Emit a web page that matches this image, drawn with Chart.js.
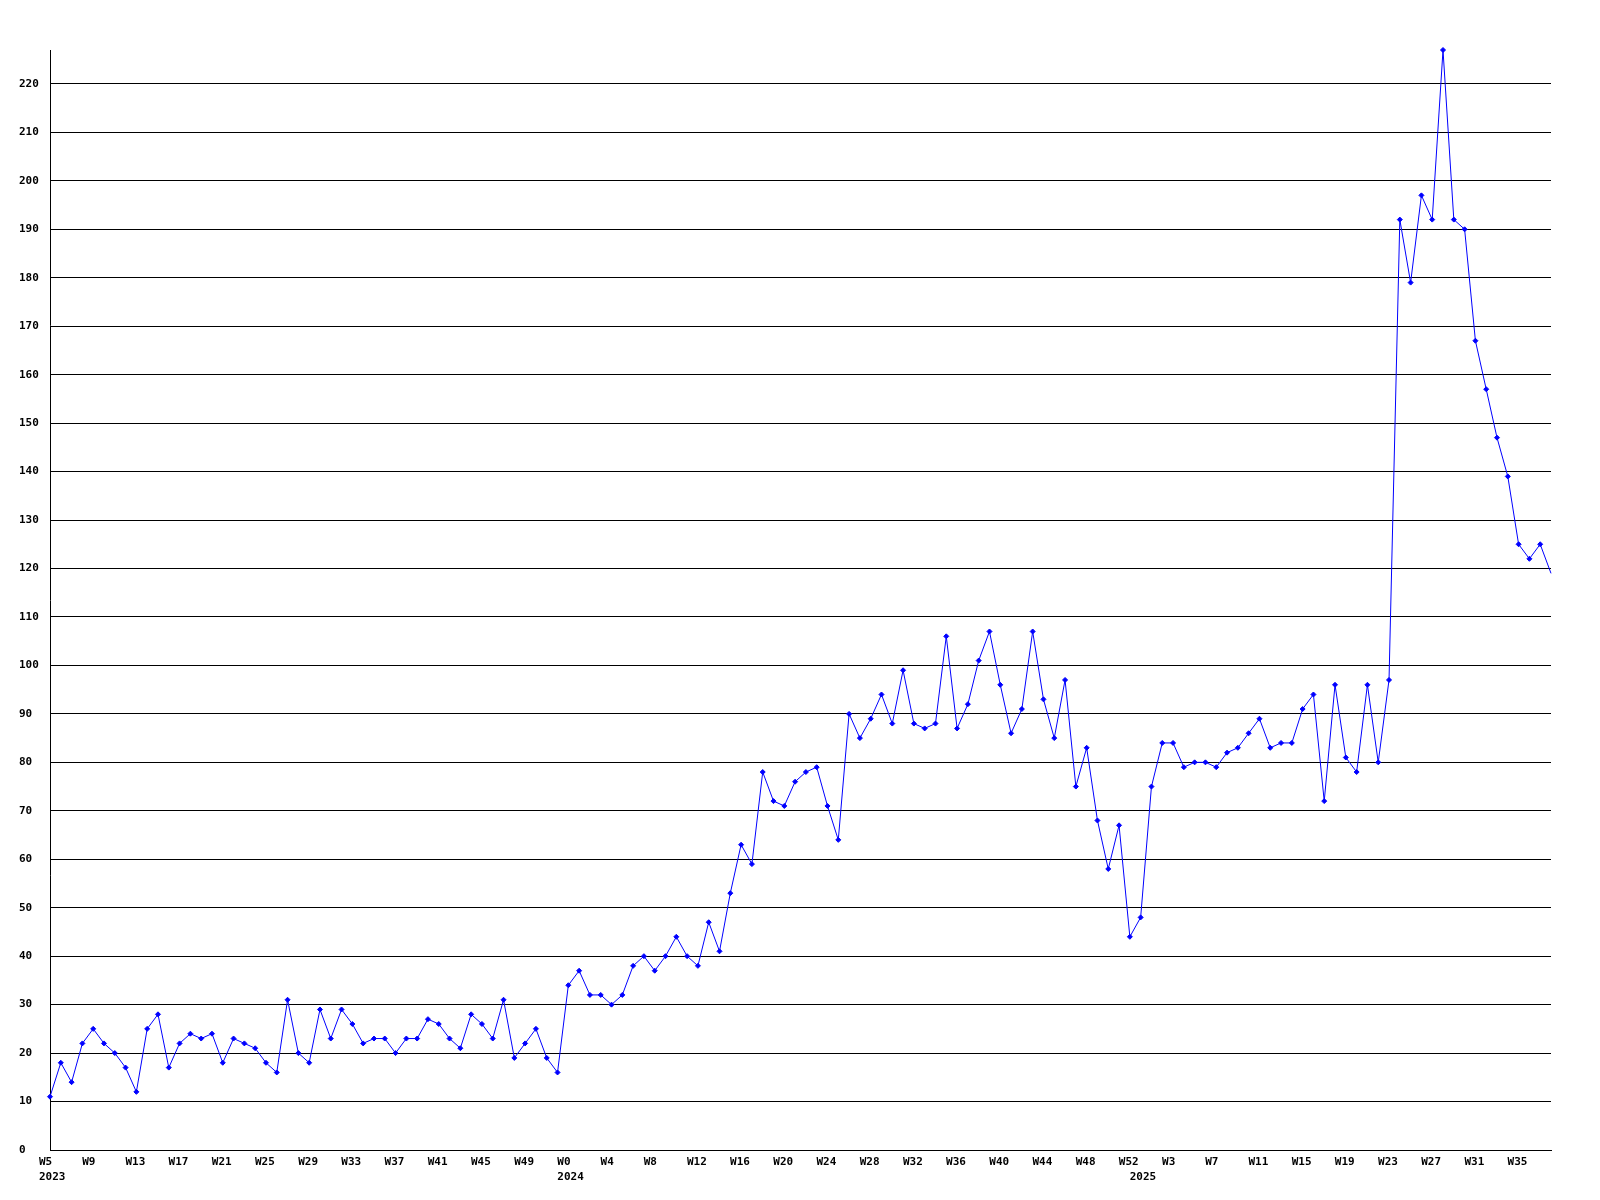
<!DOCTYPE html>
<html>
<head>
<meta charset="utf-8">
<script src="https://cdn.jsdelivr.net/npm/chart.js@4/dist/chart.umd.min.js"></script>
<style>
  html, body { margin: 0; padding: 0; background: #fff; }
  canvas { display: block; }
</style>
</head>
<body>
<canvas id="myChart" width="1600" height="1200"></canvas>
<script>
// weekly counts, one array per year
var years = ['2023', '2024', '2025'];
var firstWeek = [5, 0, 0];
var lastWeek = [52, 52, 38];

var values2023 = [11, 18, 14, 22, 25, 22, 20, 17, 12, 25, 28, 17, 22, 24, 23, 24, 18, 23, 22, 21,
  18, 16, 31, 20, 18, 29, 23, 29, 26, 22, 23, 23, 20, 23, 23, 27, 26, 23, 21, 28,
  26, 23, 31, 19, 22, 25, 19, 16];
var values2024 = [34, 37, 32, 32, 30, 32, 38, 40, 37, 40, 44, 40, 38, 47, 41, 53, 63, 59, 78, 72,
  71, 76, 78, 79, 71, 64, 90, 85, 89, 94, 88, 99, 88, 87, 88, 106, 87, 92, 101, 107,
  96, 86, 91, 107, 93, 85, 97, 75, 83, 68, 58, 67, 44];
var values2025 = [48, 75, 84, 84, 79, 80, 80, 79, 82, 83, 86, 89, 83, 84, 84, 91, 94, 72, 96, 81,
  78, 96, 80, 97, 192, 179, 197, 192, 227, 192, 190, 167, 157, 147, 139, 125, 122, 125, 119];

var yStep = 10;
var labelEvery = 4;

// build categories: week label plus the year on the first week of each year
var weekLabels = [];
var yearStart = {};
for (var y = 0; y < years.length; y++) {
  yearStart[weekLabels.length] = years[y];
  for (var w = firstWeek[y]; w <= lastWeek[y]; w++) weekLabels.push('W' + w);
}
var values = values2023.concat(values2024, values2025);

var font = { family: 'DejaVu Sans Mono', size: 11, weight: 'bold', lineHeight: 15 / 11 };

var ctx = document.getElementById('myChart').getContext('2d');
var chart = new Chart(ctx, {
  type: 'line',
  data: {
    labels: weekLabels,
    datasets: [{
      data: values,
      borderColor: '#0000ff',
      backgroundColor: '#0000ff',
      borderWidth: 1,
      tension: 0,
      clip: false,
      pointStyle: 'rectRot',
      pointRadius: function (c) { return c.dataIndex === values.length - 1 ? 0 : 2.5; },
      pointBorderWidth: 1
    }]
  },
  options: {
    responsive: false,
    animation: false,
    layout: { padding: { left: 19, right: 49, top: 50, bottom: 0 } },
    plugins: { legend: { display: false }, tooltip: { enabled: false } },
    scales: {
      x: {
        offset: false,
        grid: { display: false, drawTicks: false },
        border: { display: true, color: '#000', width: 1 },
        afterFit: function (s) { s.height = 50; },
        ticks: {
          autoSkip: false,
          maxRotation: 0,
          minRotation: 0,
          align: 'start',
          labelOffset: -11,
          padding: 5,
          color: '#000',
          font: font,
          callback: function (v, i) {
            var wk = i % labelEvery === 0 ? weekLabels[i] : '';
            if (yearStart[i]) return [wk, yearStart[i]];
            return wk;
          }
        }
      },
      y: {
        min: 0,
        max: Math.max.apply(null, values),
        grid: { color: '#000', lineWidth: 1, drawTicks: false },
        border: { display: true, color: '#000', width: 1 },
        afterFit: function (s) { s.width = 31; },
        afterBuildTicks: function (s) {
          s.ticks = s.ticks.filter(function (t) { return t.value % yStep === 0; });
        },
        ticks: {
          stepSize: yStep,
          crossAlign: 'far',
          color: '#000',
          font: { family: 'DejaVu Sans Mono', size: 11, weight: 'bold' }
        }
      }
    }
  }
});
</script>
</body>
</html>
